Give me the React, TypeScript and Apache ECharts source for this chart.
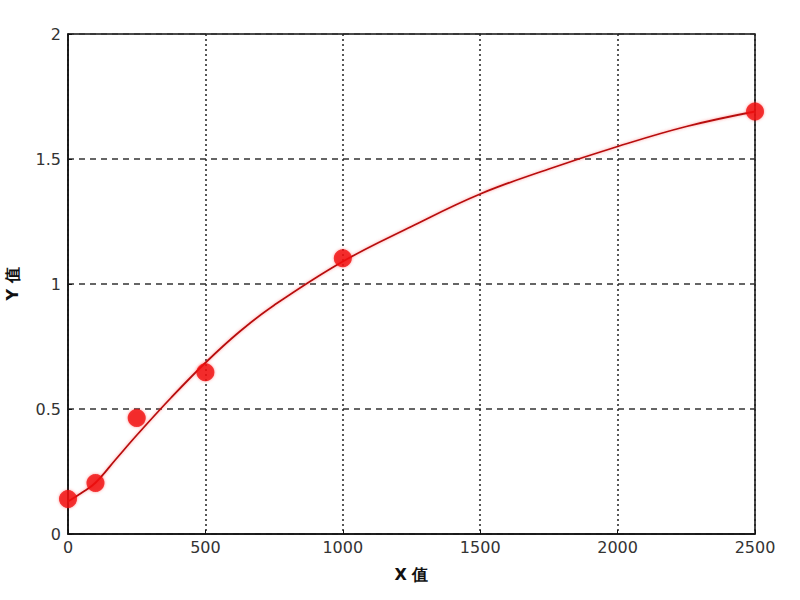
import { useEffect, useRef } from 'react';
import * as echarts from 'echarts';

/* ───── Data ───── */
const pointX = [0, 100, 250, 500, 1000, 2500];
const pointY = [0.14, 0.204, 0.464, 0.647, 1.103, 1.69];

// fitted curve
const curveX = [0, 50, 100, 175, 250, 375, 500, 625, 750, 1000, 1250, 1500, 1750, 2000, 2250, 2500];
const curveY = [0.13, 0.165, 0.205, 0.3, 0.395, 0.545, 0.685, 0.81, 0.915, 1.09, 1.23, 1.36, 1.46, 1.55, 1.63, 1.69];

const xTicks = [0, 500, 1000, 1500, 2000, 2500];
const yTicks = [0, 0.5, 1, 1.5, 2];

const FONT = '"DejaVu Sans", Verdana, sans-serif';

export default function App() {
  const ref = useRef<HTMLDivElement>(null);

  useEffect(() => {
    if (!ref.current) return;
    const chart = echarts.init(ref.current, null, { renderer: 'svg' });
    chart.setOption({
      animation: false,
      backgroundColor: '#fff',
      grid: {
        left: 68, right: 45, top: 34, bottom: 66,
        outerBoundsMode: 'none', containLabel: false,
        show: true, borderColor: '#111', borderWidth: 1.5, backgroundColor: 'transparent',
      },
      xAxis: {
        type: 'value', min: 0, max: 2500, interval: 500,
        name: 'X 值', nameLocation: 'middle', nameGap: 32,
        nameTextStyle: { fontFamily: FONT, fontSize: 16, fontWeight: 'bold', color: '#111' },
        axisLine: { show: true, lineStyle: { color: '#111', width: 1.5 } },
        axisTick: { show: true, inside: true, length: 4, lineStyle: { color: '#111' } },
        axisLabel: {
          fontFamily: FONT, fontSize: 16, color: '#333', margin: 5,
          formatter: (v: number) => (xTicks.includes(v) ? String(v) : ''),
        },
        splitLine: { show: true, lineStyle: { color: '#222', width: 1.5, type: [2, 3] } },
      },
      yAxis: {
        type: 'value', min: 0, max: 2, interval: 0.5,
        name: 'Y 值', nameLocation: 'middle', nameGap: 48, nameRotate: 90,
        nameTextStyle: { fontFamily: FONT, fontSize: 16, fontWeight: 'bold', color: '#111' },
        axisLine: { show: true, lineStyle: { color: '#111', width: 1.5 } },
        axisTick: { show: true, inside: true, length: 4, lineStyle: { color: '#111' } },
        axisLabel: {
          fontFamily: FONT, fontSize: 16, color: '#333', margin: 7,
          formatter: (v: number) => (yTicks.includes(v) ? String(v) : ''),
        },
        splitLine: { show: true, lineStyle: { color: '#333', width: 1.5, type: [6, 5] } },
      },
      series: [
        {
          name: 'fit', type: 'line', smooth: 0.4, showSymbol: false,
          data: curveX.map((x, i) => [x, curveY[i]]),
          lineStyle: { color: '#b80c0c', width: 1.8, shadowColor: 'rgba(255,80,80,0.6)', shadowBlur: 3 },
          z: 2,
        },
        {
          name: 'points', type: 'scatter', symbol: 'circle', symbolSize: 18,
          data: pointX.map((x, i) => [x, pointY[i]]),
          itemStyle: { color: '#f00a0a', shadowColor: 'rgba(255,0,0,0.5)', shadowBlur: 3 },
          z: 3,
        },
      ],
    });
    return () => { chart.dispose(); };
  }, []);

  return <div ref={ref} style={{ width: 800, height: 600, position: 'absolute', left: 0, top: 0 }} />;
}
